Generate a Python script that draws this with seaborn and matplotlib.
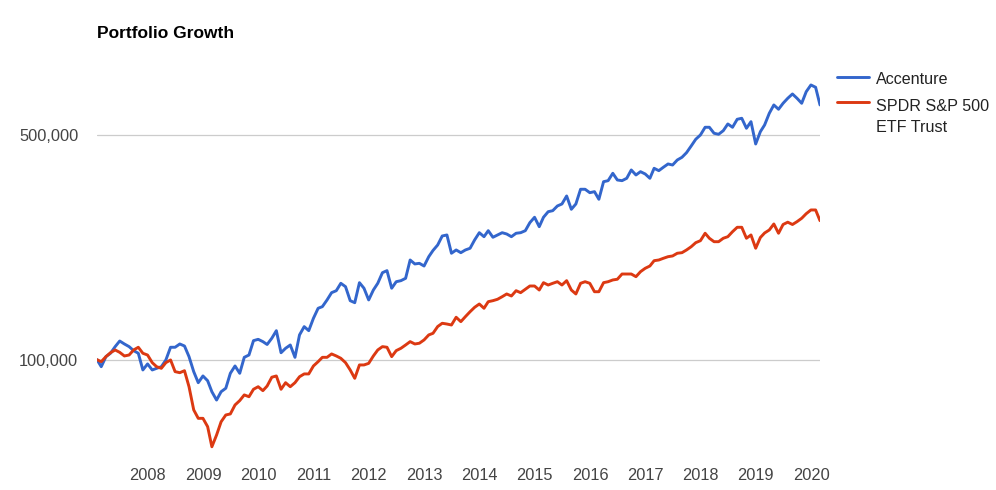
import numpy as np
import pandas as pd
import matplotlib
matplotlib.use("Agg")
import matplotlib.pyplot as plt
import matplotlib.dates as mdates
import matplotlib.ticker as mticker
from matplotlib.lines import Line2D
import seaborn as sns

# ---------------- data (portfolio value, thousands of USD, month-end) ----------------
series_names = ["Accenture", "SPDR S&P 500 ETF Trust"]
series_label_lines = [["Accenture"], ["SPDR S&P 500", "ETF Trust"]]
series_colors = ["#3366CC", "#DC3912"]
start_month = "2007-01-31"

acn = [100.0, 95.1, 102.2, 104.7, 109.8, 114.3, 111.9, 109.8, 106.7, 104.7,
       92.9, 97.0, 92.9, 94.0, 95.1, 99.8, 109.3, 109.3, 111.9, 110.3,
       102.2, 91.8, 84.8, 89.0, 86.0, 79.5, 74.9, 79.5, 81.5, 90.7,
       95.6, 90.7, 101.7, 103.4, 114.6, 115.7, 113.8, 111.5, 116.6, 123.1,
       105.1, 108.5, 111.1, 101.7, 119.4, 126.7, 123.1, 134.5, 144.5, 146.2,
       153.4, 161.6, 163.9, 172.8, 168.7, 152.6, 150.4, 173.6, 166.8, 153.4,
       164.7, 172.8, 186.5, 189.2, 166.8, 174.8, 176.1, 179.1, 204.2, 198.5,
       199.4, 195.6, 209.1, 218.6, 227.4, 242.5, 244.3, 214.3, 219.4, 215.2,
       219.4, 222.1, 235.7, 248.3, 241.3, 251.9, 240.3, 244.3, 248.3, 246.0,
       241.3, 247.3, 248.3, 251.9, 266.8, 277.3, 259.2, 277.3, 288.6, 290.7,
       300.7, 305.0, 323.0, 293.6, 305.0, 338.9, 338.9, 330.7, 333.1, 315.4,
       357.8, 360.4, 380.0, 362.2, 360.4, 366.6, 389.1, 375.4, 384.4, 378.1,
       366.6, 393.8, 387.2, 396.7, 406.2, 403.2, 417.9, 426.1, 440.4, 462.1,
       484.8, 500.0, 528.3, 528.3, 506.1, 502.4, 515.6, 541.0, 528.3, 559.4,
       563.5, 524.5, 550.0, 468.7, 511.9, 537.1, 584.0, 619.8, 601.0, 627.3,
       650.3, 670.6, 650.3, 627.3, 681.7, 715.2, 703.5, 619.8]

spy = [100.0, 98.6, 102.2, 105.1, 107.2, 105.4, 102.7, 103.4, 107.2, 109.3,
       104.7, 103.4, 97.9, 95.1, 94.0, 97.9, 99.8, 91.8, 91.1, 92.4,
       82.4, 69.8, 65.7, 65.7, 61.9, 53.6, 58.3, 64.1, 67.3, 67.8,
       72.3, 74.6, 77.7, 76.7, 80.9, 82.4, 80.1, 82.8, 88.2, 89.0,
       80.9, 84.8, 82.4, 84.8, 88.5, 90.3, 90.3, 95.6, 98.6, 101.7,
       101.7, 104.2, 102.7, 101.0, 97.9, 92.9, 87.5, 96.3, 96.3, 97.4,
       102.7, 107.2, 109.8, 109.3, 102.2, 106.7, 108.5, 111.1, 113.8, 111.9,
       112.5, 115.2, 119.4, 120.8, 126.8, 129.8, 129.1, 128.2, 135.5, 131.3,
       136.1, 141.0, 145.5, 149.0, 144.5, 151.5, 152.6, 154.1, 157.0, 160.1,
       157.8, 163.9, 161.6, 165.6, 169.5, 169.5, 164.7, 173.6, 170.7, 172.8,
       174.8, 170.7, 176.1, 164.7, 160.1, 172.8, 174.8, 172.8, 162.7, 162.7,
       173.6, 174.8, 177.0, 177.9, 184.7, 184.7, 184.7, 181.2, 187.8, 192.4,
       195.6, 203.2, 204.2, 206.7, 209.1, 210.2, 214.3, 215.2, 219.4, 224.6,
       231.2, 234.5, 247.3, 238.6, 232.8, 232.8, 238.6, 241.3, 250.1, 258.1,
       258.1, 238.6, 244.3, 222.1, 239.9, 247.8, 253.2, 264.3, 247.3, 263.3,
       267.7, 263.3, 268.7, 275.3, 284.5, 292.2, 292.2, 270.6]

ytick_values = [100000, 500000]
title_text = "Portfolio Growth"

# ---------------- build frame ----------------
dates = pd.date_range(start_month, periods=len(acn), freq="ME")
df = pd.DataFrame({
    "date": np.concatenate([dates, dates]),
    "value": np.concatenate([np.array(acn), np.array(spy)]) * 1000,
    "series": [series_names[0]] * len(acn) + [series_names[1]] * len(spy),
})

sns.set_style("white")
plt.rcParams["font.family"] = ["Liberation Sans", "DejaVu Sans"]

W, H = 996, 490
fig = plt.figure(figsize=(W / 100, H / 100), dpi=100)
ax = fig.add_axes([97 / W, 30 / H, 723 / W, 400 / H])

sns.lineplot(data=df, x="date", y="value", hue="series",
             hue_order=series_names, palette=series_colors,
             linewidth=2.1, ax=ax, legend=False)

ax.set_yscale("log")
ax.set_ylim(48750, 855300)
ax.set_xlim(dates[0], dates[-1])

ax.yaxis.set_major_locator(mticker.FixedLocator(ytick_values))
ax.yaxis.set_minor_locator(mticker.NullLocator())
ax.yaxis.set_major_formatter(mticker.FuncFormatter(lambda v, p: f"{int(round(v)):,}"))
ax.xaxis.set_major_locator(mdates.YearLocator())
ax.xaxis.set_major_formatter(mdates.DateFormatter("%Y"))

ax.set_axisbelow(True)
ax.grid(False)
ax.yaxis.grid(True, color="#cccccc", linewidth=0.9)
for s in ax.spines.values():
    s.set_visible(False)

ax.tick_params(axis="both", length=0, labelsize=11.8, labelcolor="#444444")
ax.tick_params(axis="y", pad=13.5)
ax.tick_params(axis="x", pad=6)
ax.set_xlabel("")
ax.set_ylabel("")

# title
fig.text(97 / W, 1 - 33 / H, title_text, fontsize=12.5, fontweight="bold",
         color="#000000", ha="left", va="center")

# legend (manual, to mimic the multi-line layout)
handle_y = [77, 102]
text_y = [[80], [106, 127]]
for lines, col, hy, tys in zip(series_label_lines, series_colors, handle_y, text_y):
    fig.add_artist(Line2D([837 / W, 869 / W], [1 - hy / H, 1 - hy / H],
                          transform=fig.transFigure, color=col, linewidth=2.1))
    for txt, ty in zip(lines, tys):
        fig.text(876 / W, 1 - ty / H, txt, fontsize=11.6, color="#222222",
                 ha="left", va="center")

fig.savefig("out.png", dpi=100)
